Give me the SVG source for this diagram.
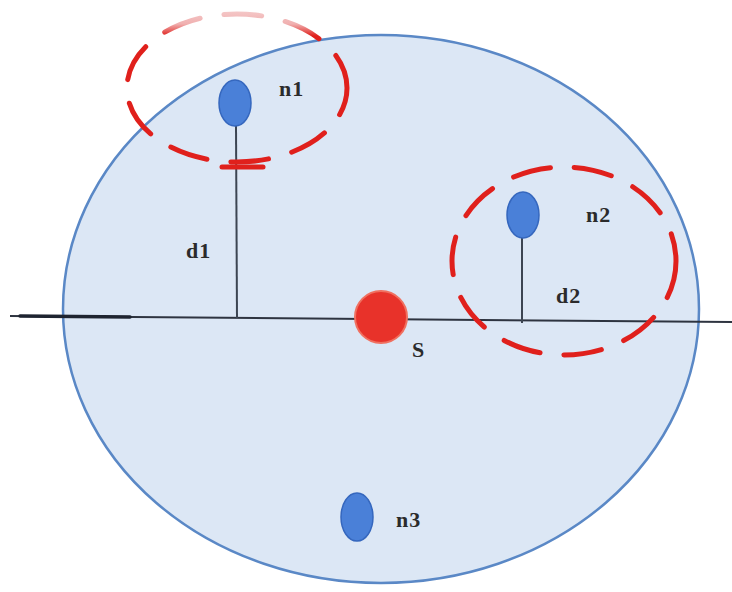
<svg xmlns="http://www.w3.org/2000/svg" width="732" height="592" viewBox="0 0 732 592">
<defs>
<style>
.lbl{font-family:"Liberation Serif","DejaVu Serif",serif;font-weight:bold;font-size:22px;letter-spacing:1px;fill:#2b2b2b}
.node{fill:#4a80d8;stroke:#3567be;stroke-width:1.5}
.stem{stroke:#3c4552;stroke-width:2;fill:none}
.range{fill:none;stroke:#e0201c;stroke-width:5;stroke-dasharray:38 24;stroke-linecap:round}
</style>
<linearGradient id="fade" gradientUnits="userSpaceOnUse" x1="0" y1="12" x2="0" y2="36">
<stop offset="0" stop-color="#f4c6c6"/>
<stop offset="0.5" stop-color="#f0b0b0"/>
<stop offset="1" stop-color="#e0201c"/>
</linearGradient>
</defs>
<rect width="732" height="592" fill="#ffffff"/>
<g id="field">
<ellipse cx="381" cy="309" rx="318" ry="274" fill="#dce7f5" stroke="#5a88c6" stroke-width="2.5"/>
</g>
<g id="connectors">
<line x1="10" y1="316" x2="732" y2="322" stroke="#2e3440" stroke-width="2"/>
<line x1="20" y1="316" x2="130" y2="317" stroke="#1e2430" stroke-width="3.5" stroke-linecap="round"/>
<line x1="236" y1="126" x2="237" y2="318" class="stem"/>
<line x1="522" y1="238" x2="522" y2="323" class="stem"/>
<line x1="222" y1="167" x2="263" y2="167" stroke="#e0201c" stroke-width="5" stroke-linecap="round"/>
</g>
<g id="range-n1">
<ellipse cx="237" cy="88" rx="110" ry="74" class="range" style="stroke:url(#fade)" stroke-dashoffset="10"/>
</g>
<g id="range-n2">
<ellipse cx="564" cy="261" rx="112" ry="94" class="range"/>
</g>
<g id="S">
<circle cx="381" cy="317" r="26" fill="#e8322a" stroke="#f07060" stroke-width="2"/>
<text x="412" y="357" class="lbl">S</text>
</g>
<g id="n1">
<ellipse cx="235" cy="103" rx="16" ry="23" class="node"/>
<text x="279" y="96" class="lbl">n1</text>
</g>
<g id="n2">
<ellipse cx="523" cy="215" rx="16" ry="23" class="node"/>
<text x="586" y="222" class="lbl">n2</text>
</g>
<g id="n3">
<ellipse cx="357" cy="517" rx="16" ry="24" class="node"/>
<text x="396" y="527" class="lbl">n3</text>
</g>
<g id="d-labels">
<text x="186" y="258" class="lbl">d1</text>
<text x="556" y="303" class="lbl">d2</text>
</g>
</svg>
